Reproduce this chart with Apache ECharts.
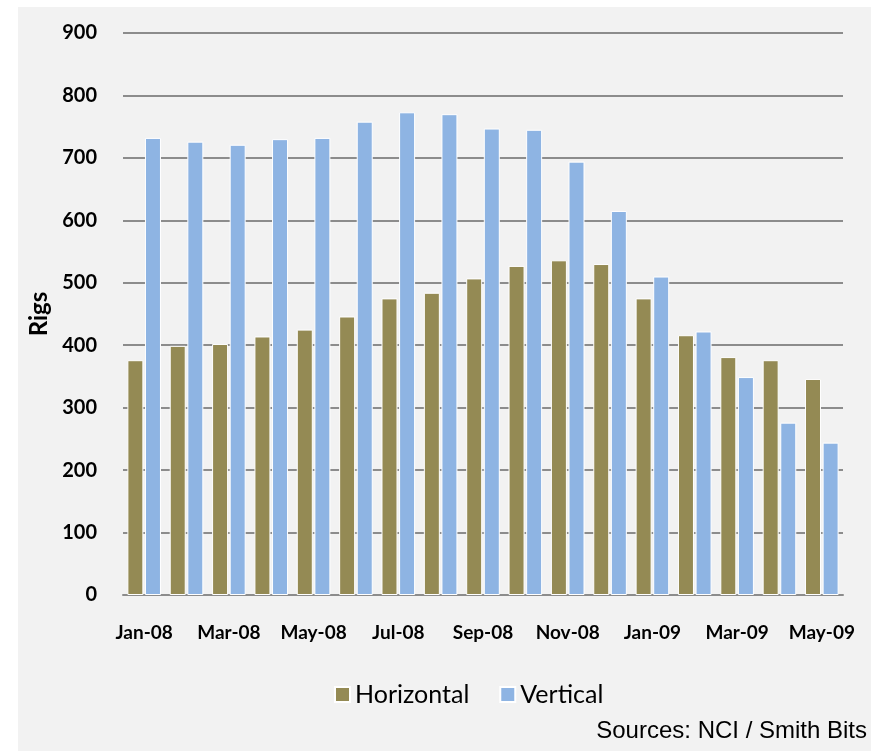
<!DOCTYPE html>
<html>
<head>
<meta charset="utf-8">
<script src="https://cdn.jsdelivr.net/npm/echarts@6/dist/echarts.min.js"></script>
<style>
  html, body { margin: 0; padding: 0; background: #fff; }
  #chart { width: 877px; height: 751px; }
</style>
</head>
<body>
<div id="chart"></div>
<script>
  var months = ['Jan-08', 'Feb-08', 'Mar-08', 'Apr-08', 'May-08', 'Jun-08', 'Jul-08', 'Aug-08', 'Sep-08',
    'Oct-08', 'Nov-08', 'Dec-08', 'Jan-09', 'Feb-09', 'Mar-09', 'Apr-09', 'May-09'];
  var horizontal = [376, 399, 402, 414, 425, 446, 475, 484, 507, 527, 536, 530, 475, 416, 381, 376, 346];
  var vertical = [732, 726, 721, 730, 732, 758, 773, 770, 747, 745, 694, 615, 510, 422, 349, 276, 244];
  var seriesNames = ['Horizontal', 'Vertical'];
  var seriesColors = ['#948A54', '#8EB4E3'];

  var chart = echarts.init(document.getElementById('chart'));
  var labelFont = 'Lato, "Open Sans", sans-serif';

  chart.setOption({
    backgroundColor: '#fff',
    animation: false,
    graphic: [
      { type: 'rect', left: 18, top: 7, z: -10, silent: true,
        shape: { width: 853, height: 744 }, style: { fill: '#F2F2F2' } },
      { type: 'text', right: 10, top: 719,
        style: { text: 'Sources: NCI / Smith Bits', fill: '#000', font: '24px "Liberation Sans", Arial, sans-serif' } }
    ],
    grid: { left: 123, right: 34, top: 33, bottom: 156 },
    legend: {
      data: seriesNames,
      left: 329, top: 677,
      itemWidth: 15, itemHeight: 15, itemGap: 30,
      icon: 'rect',
      textStyle: { fontSize: 25, fontFamily: labelFont, color: '#000' }
    },
    xAxis: {
      type: 'category',
      data: months,
      axisLine: { lineStyle: { color: '#8c8c8c', width: 2 } },
      axisTick: { interval: 1, length: 6, lineStyle: { color: '#8c8c8c', width: 2 } },
      axisLabel: { interval: 1, margin: 28, fontSize: 19, fontWeight: 'bold', fontFamily: labelFont, color: '#000' }
    },
    yAxis: {
      type: 'value',
      min: 0, max: 900, interval: 100,
      name: 'Rigs',
      nameLocation: 'middle',
      nameGap: 67,
      nameTextStyle: { fontSize: 24, fontWeight: 'bold', fontFamily: labelFont, color: '#000' },
      axisLine: { show: false },
      axisTick: { show: false },
      axisLabel: { margin: 26, fontSize: 20, fontWeight: 'bold', fontFamily: labelFont, color: '#000' },
      splitLine: { lineStyle: { color: '#8c8c8c', width: 2 } }
    },
    series: [
      {
        name: seriesNames[0], type: 'bar', data: horizontal,
        barWidth: 16, barGap: '10%',
        itemStyle: { color: seriesColors[0], borderColor: '#fff', borderWidth: 1 }
      },
      {
        name: seriesNames[1], type: 'bar', data: vertical,
        barWidth: 16, barGap: '10%',
        itemStyle: { color: seriesColors[1], borderColor: '#fff', borderWidth: 1 }
      }
    ]
  });
</script>
</body>
</html>
